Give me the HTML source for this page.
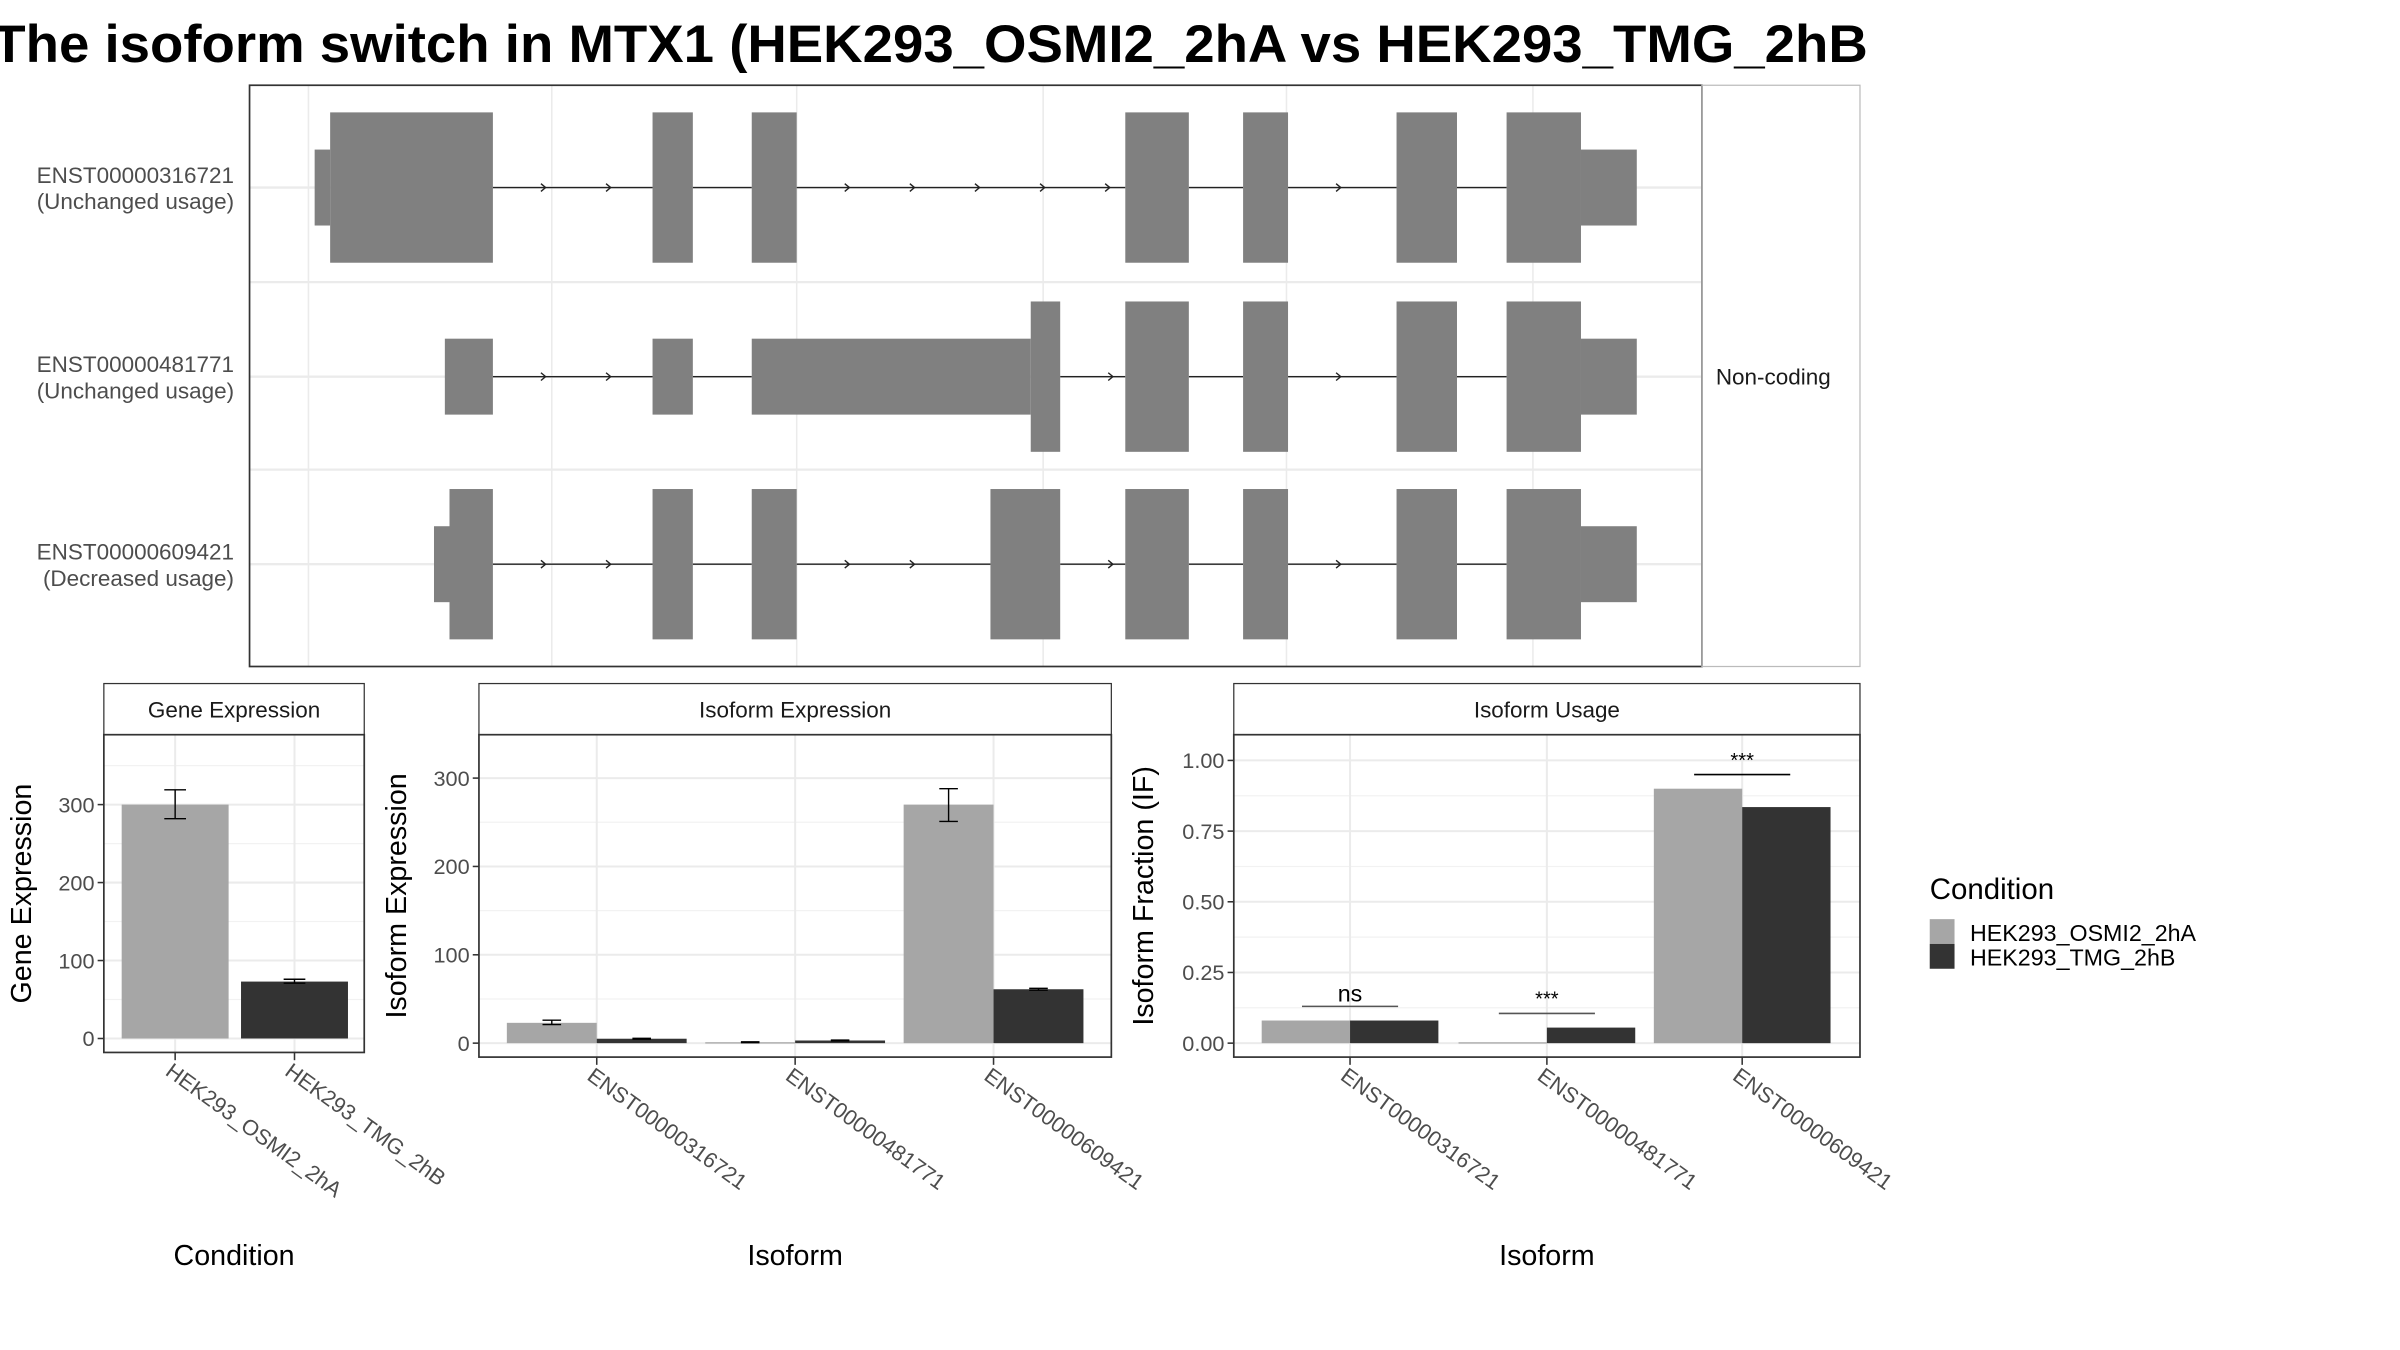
<!DOCTYPE html>
<html><head><meta charset="utf-8"><style>
html,body{margin:0;padding:0;background:#fff}
svg{display:block;font-family:"Liberation Sans",sans-serif}
</style></head><body>
<svg id="fig" width="2400" height="1350" viewBox="0 0 1548.4 870.97" xmlns="http://www.w3.org/2000/svg">
<text x="-5" y="40" font-size="34" font-weight="bold" fill="#000" textLength="1210" lengthAdjust="spacingAndGlyphs">The isoform switch in MTX1 (HEK293_OSMI2_2hA vs HEK293_TMG_2hB</text>
<g id="topPanel"></g>
<g id="gene"></g>
<g id="iso"></g>
<g id="use"></g>
<g>
<text x="1245" y="580" font-size="19" fill="#000">Condition</text>
<rect x="1245" y="593" width="16" height="16" fill="#a6a6a6"/>
<rect x="1245" y="609" width="16" height="16" fill="#333333"/>
<text x="1271" y="607" font-size="15" fill="#000">HEK293_OSMI2_2hA</text>
<text x="1271" y="623" font-size="15" fill="#000">HEK293_TMG_2hB</text>
</g>
</svg>
<script>
const NS='http://www.w3.org/2000/svg';
// ---- data ----
const transcripts=['ENST00000316721','ENST00000481771','ENST00000609421'];
const usageLabels=['(Unchanged usage)','(Unchanged usage)','(Decreased usage)'];
const exons1=[[203,213,0],[213,318,1],[421,447,1],[485,514,1],[726,767,1],[802,831,1],[901,940,1],[972,1020,1],[1020,1056,0]];
const exons2=[[287,318,0],[421,447,0],[485,665,0],[665,684,1],[726,767,1],[802,831,1],[901,940,1],[972,1020,1],[1020,1056,0]];
const exons3=[[280,290,0],[290,318,1],[421,447,1],[485,514,1],[639,684,1],[726,767,1],[802,831,1],[901,940,1],[972,1020,1],[1020,1056,0]];
const conditions=['HEK293_OSMI2_2hA','HEK293_TMG_2hB'];
const geneValues=[300,73];
const geneErrLo=[282,71];
const geneErrHi=[319,76];
const geneTicks=[0,100,200,300];
const isoA=[23,1,270];
const isoB=[5,3,61];
const isoAErrLo=[21,0.5,251];
const isoAErrHi=[26,1.5,288];
const isoBErrLo=[4.5,2.5,60];
const isoBErrHi=[5.5,3.5,62];
const isoTicks=[0,100,200,300];
const useA=[0.08,0.003,0.9];
const useB=[0.08,0.055,0.835];
const useTicks=[0,0.25,0.5,0.75,1.0];
const useTickLabels=['0.00','0.25','0.50','0.75','1.00'];
const sigLabels=['ns','***','***'];
const sigY=[0.13,0.105,0.95];
const colA='#a6a6a6', colB='#333333';

function mk(p,tag,a){const e=document.createElementNS(NS,tag);for(const k in a)e.setAttribute(k,a[k]);p.appendChild(e);return e;}

// ---- transcript panel ----
const topG=document.getElementById('topPanel');
const PL=161,PR=1098,PT=55,PB=430;
const rowY=[121,243,364];
[199,356,514,673,830,989].forEach(x=>{const l=mk(topG,'line',{x1:x,x2:x,y1:PT,y2:PB,stroke:'#ebebeb','stroke-width':1});

});
rowY.forEach(y=>{const l=mk(topG,'line',{x1:PL,x2:PR,y1:y,y2:y,stroke:'#ebebeb','stroke-width':1.5});

});
[182,303].forEach(y=>{const l=mk(topG,'line',{x1:PL,x2:PR,y1:y,y2:y,stroke:'#ebebeb','stroke-width':1.5});

});
[exons1,exons2,exons3].forEach((ex,i)=>{
  const y=rowY[i];
  const g=mk(topG,'g',{});
  
  
  for(let k=0;k<ex.length-1;k++){
    const a=ex[k][1],b=ex[k+1][0];
    if(b-a>2){
      const ln=mk(g,'line',{x1:a,x2:b,y1:y,y2:y,stroke:'#222','stroke-width':0.9});
      
      
      const n=Math.floor((b-a)/42);
      for(let j=1;j<=n;j++){
        const xx=Math.min(a+j*42-8,b-1);
        const ar=mk(g,'path',{d:`M${xx-3},${y-2.5} L${xx},${y} L${xx-3},${y+2.5}`,fill:'none',stroke:'#222','stroke-width':0.9});
        
        }
    }
  }
  ex.forEach(e=>{const h=e[2]?48.5:24.5;
    const r=mk(g,'rect',{x:e[0],y:y-h,width:e[1]-e[0],height:2*h,fill:'#808080'});
    
    });
  const t1=mk(topG,'text',{x:151,y:y-3,'text-anchor':'end','font-size':14.5,fill:'#4d4d4d'});t1.textContent=transcripts[i];
  
  
  const t2=mk(topG,'text',{x:151,y:y+14,'text-anchor':'end','font-size':14.5,fill:'#4d4d4d'});t2.textContent=usageLabels[i];
  
  
});
const fr=mk(topG,'rect',{x:PL,y:PT,width:PR-PL,height:PB-PT,fill:'none',stroke:'#333','stroke-width':1.1});


const stp=mk(topG,'rect',{x:PR,y:PT,width:102,height:PB-PT,fill:'none',stroke:'#bbb','stroke-width':0.8});


const nc=mk(topG,'text',{x:1107,y:248,'font-size':14.5,fill:'#1a1a1a'});nc.textContent='Non-coding';



// ---- generic bar panel ----
function panel(g,o){
  const {x0,x1,y0,y1,sy,title,ylab,ylabX,cats,xlab,ticks,tickLabels}=o;
  const s=mk(g,'rect',{x:x0,y:441,width:x1-x0,height:33,fill:'#fff',stroke:'#333','stroke-width':0.8});
  
  
  const stt=mk(g,'text',{x:(x0+x1)/2,y:463,'text-anchor':'middle','font-size':14.5,fill:'#1a1a1a'});stt.textContent=title;
  
  
  for(let i=0;i<ticks.length;i++){
    const yy=sy(ticks[i]);
    const gl=mk(g,'line',{x1:x0,x2:x1,y1:yy,y2:yy,stroke:'#ebebeb','stroke-width':1.3});
    
    
    if(i<ticks.length-1){const ym=sy((ticks[i]+ticks[i+1])/2);
      const gm=mk(g,'line',{x1:x0,x2:x1,y1:ym,y2:ym,stroke:'#f2f2f2','stroke-width':0.8});
      
      }
    const tk=mk(g,'line',{x1:x0-4,x2:x0,y1:yy,y2:yy,stroke:'#333','stroke-width':1});
    
    
    const tl=mk(g,'text',{x:x0-6,y:yy+5,'text-anchor':'end','font-size':14,fill:'#4d4d4d'});tl.textContent=tickLabels[i];
    
    
  }
  const ymax=sy(ticks[ticks.length-1]+(ticks[1]-ticks[0])/2);
  if(ymax>y0){const ye=mk(g,'line',{x1:x0,x2:x1,y1:ymax,y2:ymax,stroke:'#f2f2f2','stroke-width':0.8});
    
    }
  cats.forEach(c=>{
    const gx=mk(g,'line',{x1:c.x,x2:c.x,y1:y0,y2:y1,stroke:'#ebebeb','stroke-width':1.3});
    
    
  });
  const yl=mk(g,'text',{x:ylabX,y:(y0+y1)/2,'text-anchor':'middle','font-size':18.5,fill:'#000',transform:`rotate(-90 ${ylabX} ${(y0+y1)/2})`});yl.textContent=ylab;
  
  
  const xl=mk(g,'text',{x:(x0+x1)/2,y:816,'text-anchor':'middle','font-size':18.5,fill:'#000'});xl.textContent=xlab;
  
  
  cats.forEach(c=>{
    const tk=mk(g,'line',{x1:c.x,x2:c.x,y1:y1,y2:y1+5,stroke:'#333','stroke-width':1});
    
    
    const tx=c.x-7,ty=y1+14;
    const tl=mk(g,'text',{x:tx,y:ty,'font-size':14,fill:'#4d4d4d',transform:`rotate(36 ${tx} ${ty})`});tl.textContent=c.label;
    
    
  });
}
function frame(g,x0,x1,y0,y1){const f=mk(g,'rect',{x:x0,y:y0,width:x1-x0,height:y1-y0,fill:'none',stroke:'#333','stroke-width':1.1});
  
  }
function bar(g,x,w,v,sy,col,name){const y=sy(v),yb=sy(0);
  const r=mk(g,'rect',{x:x,y:Math.min(y,yb),width:w,height:Math.max(Math.abs(yb-y),0.8),fill:col});
  
  }
function err(g,cx,lo,hi,sy,hw){
  const p=mk(g,'path',{d:`M${cx-hw},${sy(hi)}H${cx+hw}M${cx},${sy(hi)}V${sy(lo)}M${cx-hw},${sy(lo)}H${cx+hw}`,stroke:'#000','stroke-width':0.9,fill:'none'});
  
  }

{const g=document.getElementById('gene');
 const x0=67,x1=235,y0=474,y1=679;
 const sy=v=>670-v*0.503;
 const cx=[113,190];
 panel(g,{x0,x1,y0,y1,sy,title:'Gene Expression',ylab:'Gene Expression',ylabX:20,cats:conditions.map((c,i)=>({x:cx[i],label:c})),xlab:'Condition',ticks:geneTicks,tickLabels:geneTicks.map(String)});
 geneValues.forEach((v,i)=>{bar(g,cx[i]-34.5,69,v,sy,i?colB:colA,'bar-'+conditions[i]);err(g,cx[i],geneErrLo[i],geneErrHi[i],sy,7);});
 frame(g,x0,x1,y0,y1);}
{const g=document.getElementById('iso');
 const x0=309,x1=717,y0=474,y1=682;
 const sy=v=>673-v*0.57;
 const cx=[385,513,641];
 panel(g,{x0,x1,y0,y1,sy,title:'Isoform Expression',ylab:'Isoform Expression',ylabX:262,cats:transcripts.map((c,i)=>({x:cx[i],label:c})),xlab:'Isoform',ticks:isoTicks,tickLabels:isoTicks.map(String)});
 transcripts.forEach((t,i)=>{
   bar(g,cx[i]-58,58,isoA[i],sy,colA,'bar-osmi2-'+t);
   bar(g,cx[i],58,isoB[i],sy,colB,'bar-tmg-'+t);
   err(g,cx[i]-29,isoAErrLo[i],isoAErrHi[i],sy,6);
   err(g,cx[i]+29,isoBErrLo[i],isoBErrHi[i],sy,6);
 });
 frame(g,x0,x1,y0,y1);}
{const g=document.getElementById('use');
 const x0=796,x1=1200,y0=474,y1=682;
 const sy=v=>673-v*182.4;
 const cx=[871,998,1124];
 panel(g,{x0,x1,y0,y1,sy,title:'Isoform Usage',ylab:'Isoform Fraction (IF)',ylabX:744,cats:transcripts.map((c,i)=>({x:cx[i],label:c})),xlab:'Isoform',ticks:useTicks,tickLabels:useTickLabels});
 transcripts.forEach((t,i)=>{
   bar(g,cx[i]-57,57,useA[i],sy,colA,'bar-osmi2-'+t);
   bar(g,cx[i],57,useB[i],sy,colB,'bar-tmg-'+t);
   const yy=sy(sigY[i]);
   const l=mk(g,'line',{x1:cx[i]-31,x2:cx[i]+31,y1:yy,y2:yy,stroke:i===2?'#000':'#555','stroke-width':1});
   
   
   const tx=mk(g,'text',{x:cx[i],y:yy-(i===0?3:5),'text-anchor':'middle','font-size':i===0?15:13,fill:'#000'});tx.textContent=sigLabels[i];
   
   
 });
 frame(g,x0,x1,y0,y1);}
</script>
</body></html>
